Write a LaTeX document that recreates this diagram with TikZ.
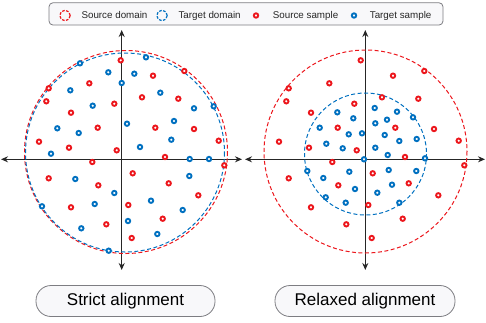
\documentclass[tikz,border=0pt]{standalone}
\usepackage{fontspec}
\setmainfont{Liberation Sans}
\usetikzlibrary{arrows.meta, positioning}

\definecolor{srcred}{RGB}{236,22,28}
\definecolor{tgtblue}{RGB}{0,112,192}
\definecolor{boxgray}{RGB}{125,125,130}
\definecolor{boxfill}{RGB}{248,248,250}

\begin{document}
\begin{tikzpicture}[
  x=1pt, y=-1pt,
  axis/.style={{Stealth[length=7pt,width=6pt]}-{Stealth[length=7pt,width=6pt]}, line width=1.2pt, draw=black!85},
  srcdom/.style={draw=srcred, line width=1pt, dash pattern=on 4pt off 2.5pt},
  tgtdom/.style={draw=tgtblue, line width=1pt, dash pattern=on 4pt off 2.5pt},
  srcdot/.style={draw=srcred, fill=white, line width=1.9pt},
  tgtdot/.style={draw=tgtblue, fill=white, line width=1.9pt},
  domicon/.style={circle, minimum size=10.5pt, inner sep=0pt, line width=1.2pt, dash pattern=on 2.6pt off 1.6pt},
  dotsicon/.style={circle, minimum size=4.4pt, inner sep=0pt, line width=1.9pt, fill=white},
  legendtext/.style={font=\fontsize{9.8}{11}\selectfont, text=black!85, inner sep=0pt, text height=7pt, text depth=2pt},
  labelbox/.style={draw=boxgray, fill=boxfill, line width=0.8pt, rounded corners=15pt, minimum height=31pt, font=\fontsize{17}{19}\selectfont}
]
\useasboundingbox (0,0) rectangle (486,322);

% legend
\node[draw=boxgray, fill=boxfill, line width=0.8pt, rounded corners=4pt, minimum width=394pt, minimum height=22.3pt] (legend) at (246,13.9) {};
\node[domicon, draw=srcred] (srcicon) at (65,15.5) {};
\node[legendtext, right=10.5pt of srcicon] (srctext) {Source domain};
\node[domicon, draw=tgtblue] (tgticon) at (162,15.5) {};
\node[legendtext, right=10.5pt of tgticon] (tgttext) {Target domain};
\node[dotsicon, draw=srcred] (srcsample) at (256,15.5) {};
\node[legendtext, right=13.5pt of srcsample] (srcsampletext) {Source sample};
\node[dotsicon, draw=tgtblue] (tgtsample) at (354,15.5) {};
\node[legendtext, right=12.5pt of tgtsample] (tgtsampletext) {Target sample};

% labels
\node[labelbox, minimum width=179pt] (strict) at (125.5,301) {Strict alignment};
\node[labelbox, minimum width=180pt] (relaxed) at (365,301) {Relaxed alignment};

% axes
\coordinate (lW) at (1,159.3);
\coordinate (lE) at (242,159.3);
\coordinate (lN) at (121.7,30);
\coordinate (lS) at (121.7,270);
\coordinate (rW) at (245,159.3);
\coordinate (rE) at (485,159.3);
\coordinate (rN) at (365.3,30);
\coordinate (rS) at (365.3,270);
\draw[axis] (lW) -- (lE);
\draw[axis] (lN) -- (lS);
\draw[axis] (rW) -- (rE);
\draw[axis] (rN) -- (rS);

% domains
\draw[srcdom] (126,152) circle (101.5);
\draw[tgtdom] (125,152.5) circle (99.5);
\draw[srcdom] (365.5,151.5) circle (101.5);
\draw[tgtdom] (365.5,154) circle (61);

% samples
\foreach \dx in {0,240}{
  \begin{scope}[xshift=\dx]
    \foreach \p in {(120.7,60.3),(184.3,71),(153,75.7),(48.7,88.3),(89.3,83.3),(46.3,101.3),(142,97.3),(178.3,98.7),(114.3,103.7),(71,112.7),(97.7,127.7),(155.3,127.7),(194,129),(39,141.7),(69,147.7),(116.7,150.3),(218.7,140.7),(165,157),(92.3,162),(224.3,165.3),(132.7,173.3),(48.7,178.3),(168.7,183.3),(98.3,185.3),(198.3,195.3),(128.3,205),(71,207.3),(162.7,218.7),(106.3,224.3),(131.7,238)}
      \draw[srcdot] \p circle (2.2);
  \end{scope}
}
\foreach \p in {(80,63.3),(146,57.3),(108.3,72.3),(134.3,73.7),(70.3,90.3),(121.7,83),(160.3,92.7),(92.7,105.7),(194,108.3),(213.7,106.3),(57.3,128.3),(78.7,133),(127,123.7),(174,121),(171.3,139.7),(140,147),(51,153.7),(189.7,159),(209,159),(75.3,179),(189.3,176),(114.3,193),(151,200.7),(42,206.3),(94.7,204),(182.7,210),(128,221),(81.3,228.3),(157.3,234),(108.7,250.7)}
  \draw[tgtdot] \p circle (2.2);
\foreach \p in {(374.7,108),(397,111.7),(337.3,112.3),(353.3,118.3),(413,117.3),(375.3,123.3),(387,119.7),(319.7,127.7),(348.7,134.3),(362,133.3),(384.7,135),(399.3,141),(416.7,139),(326.3,143.7),(342.7,148.3),(375.3,147.7),(387.7,155),(364,159.3),(425,158.3),(307.3,171),(349.3,171.7),(388.7,170),(416.3,171),(323.3,178),(392,184.7),(355,189),(377.3,192.7),(325.7,197.3),(345.7,202.7),(399.3,202.7)}
  \draw[tgtdot] \p circle (2.2);
\end{tikzpicture}
\end{document}
